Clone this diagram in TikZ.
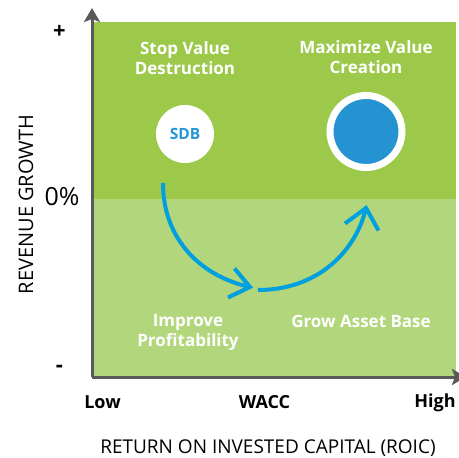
\documentclass[tikz,border=0pt]{standalone}
\usepackage{fontspec}
\setmainfont{Open Sans}
\usetikzlibrary{arrows.meta}
\definecolor{dgreen}{RGB}{157,201,74}
\definecolor{lgreen}{RGB}{178,214,123}
\definecolor{axisgray}{RGB}{88,89,91}
\definecolor{arrowblue}{RGB}{0,160,222}
\definecolor{dotblue}{RGB}{37,146,210}
\definecolor{sdbblue}{RGB}{37,150,215}
\tikzset{
  quadlabel/.style={text=white, align=center, inner sep=0pt, font=\bfseries\fontsize{17}{20}\selectfont},
  ticklabel/.style={text=black, inner sep=0pt, font=\bfseries\fontsize{18}{22}\selectfont},
  axistitle/.style={text=black, inner sep=0pt, font=\fontsize{19}{22}\selectfont},
  axisline/.style={draw=axisgray, line width=3pt},
  flow/.style={draw=arrowblue, line width=4pt},
  chevron/.style={draw=arrowblue, line width=4pt, miter limit=10},
}
\begin{document}
\begin{tikzpicture}[x=1pt,y=-1pt]
\useasboundingbox (0,0) rectangle (459,458);
\clip (0,0) rectangle (459,458);
% background quadrants
\fill[dgreen] (93,22) rectangle (456,199);
\fill[lgreen] (93,199) rectangle (456,377);
% axes
\coordinate (origin) at (92,377);
\coordinate (ytip) at (92,8);
\coordinate (xtip) at (466,377);
\draw[axisline, -{Stealth[length=14pt,width=16pt,inset=3pt]}] (origin) -- (ytip);
\draw[axisline, -{Stealth[length=14pt,width=16pt,inset=3pt]}] (origin) -- (xtip);
% axis marks
\node[ticklabel, font=\bfseries\fontsize{22}{24}\selectfont] (plus) at (59.5,32) {+};
\node[text=black, inner sep=0pt, font=\fontsize{25}{28}\selectfont] (zero) at (62,196.5) {0\%};
\node[ticklabel, font=\bfseries\fontsize{22}{24}\selectfont] (minus) at (59.5,369) {-};
\node[ticklabel] (low) at (102.5,402.5) {Low};
\node[ticklabel] (wacc) at (264.5,402.5) {WACC};
\node[ticklabel] (high) at (435,402.5) {High};
\node[axistitle] (xtitle) at (268,448) {RETURN ON INVESTED CAPITAL (ROIC)};
\node[axistitle, font=\fontsize{20}{22}\selectfont, rotate=90] (ytitle) at (26,204.5) {REVENUE GROWTH};
% quadrant labels
\node[quadlabel] (stop) at (185,58) {Stop Value\\Destruction};
\node[quadlabel] (maxi) at (366,57) {Maximize Value\\Creation};
\node[quadlabel] (impr) at (188,332) {Improve\\Profitability};
\node[quadlabel] (grow) at (361,321.5) {Grow Asset Base};
% circles
\node[circle, fill=white, minimum size=58pt, inner sep=0pt, text=sdbblue,
      font=\bfseries\fontsize{15.5}{18}\selectfont] (sdb) at (185,134) {SDB};
\node[circle, fill=dotblue, draw=white, line width=7pt, minimum size=72pt, inner sep=0pt] (goal) at (366,131.5) {};
% flow arrows
\coordinate (a1) at (163,183);
\coordinate (b1) at (250,287);
\coordinate (a2) at (258,290);
\coordinate (b2) at (366,208);
\draw[flow] (a1) .. controls (163,241) and (203,277) .. (b1);
\draw[chevron] (234.5,268.5) -- (b1) -- (228,297.5);
\draw[flow] (a2) .. controls (318,290) and (356,251) .. (b2);
\draw[chevron] (345,223.5) -- (b2) -- (378.5,230.5);
\end{tikzpicture}
\end{document}
